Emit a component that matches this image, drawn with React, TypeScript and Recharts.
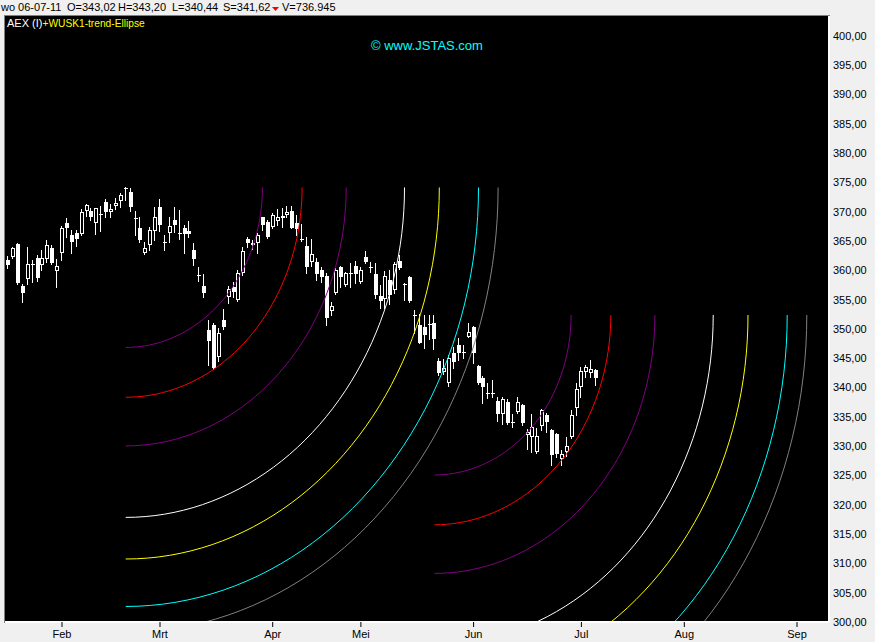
import React from "react";
import { ComposedChart, Bar, Line, XAxis, YAxis, CartesianGrid } from "recharts";

const FONT = "'Liberation Sans', Arial, sans-serif";

// AEX daily candles, index 0 = mid January 2011, last = wo 06-07-11
const opens = [
  361.78, 362.35, 364.51, 357.34, 358.59, 361.0, 362.12, 360.87, 361.89, 363.83,
  359.96, 363.03, 368.15, 365.99, 366.44, 366.22, 370.2, 370.2, 368.15, 369.7,
  371.68, 369.97, 370.99, 371.79, 374.1, 373.38, 368.9, 367.24, 362.92, 364.4,
  366.67, 370.77, 364.9, 366.33, 368.6, 366.3, 367.24, 366.78, 363.49, 359.2,
  357.34, 349.83, 350.68, 345.27, 351.54, 355.41, 357.22, 354.95, 359.51, 365.31,
  364.28, 364.62, 369.06, 368.31, 367.46, 368.38, 369.28, 369.46, 370.14, 368.14,
  365.4, 364.16, 361.48, 361.43, 360.07, 359.04, 353.12, 356.09, 360.53, 357.51,
  359.6, 360.75, 358.07, 362.24, 360.6, 359.39, 355.63, 355.07, 358.36, 356.66,
  361.65, 357.6, 358.93, 352.45, 350.68, 350.29, 350.9, 351.08, 344.59, 342.71,
  340.84, 345.96, 347.27, 346.05, 348.69, 350.39, 343.69, 341.59, 339.1, 339.05,
  337.76, 335.49, 337.54, 334.05, 335.89, 337.03, 331.96, 331.62, 329.06, 333.45,
  335.32, 332.76, 332.08, 327.76, 329.06, 331.62, 336.47, 340.15, 342.71, 342.54,
  343.02,
];
const highs = [
  362.46, 364.05, 364.6, 357.68, 364.05, 361.78, 362.58, 363.49, 365.19, 364.28,
  361.89, 367.58, 368.95, 366.9, 366.9, 370.42, 371.33, 370.65, 370.7, 370.99,
  372.13, 371.33, 372.36, 373.15, 374.15, 374.06, 370.08, 369.17, 364.85, 367.47,
  370.77, 372.13, 366.1, 369.06, 370.77, 370.31, 367.69, 368.38, 364.62, 360.53,
  359.39, 351.54, 350.97, 350.12, 353.36, 357.34, 358.02, 360.07, 364.04, 365.65,
  365.19, 366.33, 369.17, 368.6, 369.85, 370.43, 370.6, 370.99, 370.99, 369.46,
  367.92, 365.65, 365.31, 362.06, 360.53, 359.56, 354.66, 360.36, 360.75, 359.78,
  361.21, 361.6, 360.53, 363.36, 361.48, 361.21, 357.51, 359.95, 360.07, 361.48,
  362.63, 357.8, 359.04, 353.24, 352.56, 352.39, 352.39, 352.39, 345.05, 344.83,
  345.56, 346.98, 348.41, 347.27, 351.08, 350.51, 343.86, 341.98, 340.73, 341.3,
  338.35, 338.45, 338.0, 335.49, 338.35, 337.2, 332.88, 335.49, 333.05, 336.3,
  335.61, 332.88, 332.2, 329.35, 331.52, 336.18, 340.84, 343.57, 343.86, 344.71,
  343.2,
];
const lows = [
  360.36, 362.06, 357.68, 354.67, 357.68, 358.08, 358.25, 360.07, 361.44, 361.1,
  357.23, 361.78, 365.76, 363.03, 364.17, 366.1, 369.29, 368.6, 366.22, 366.78,
  369.06, 369.17, 370.54, 370.88, 372.02, 370.2, 366.1, 364.85, 362.8, 363.49,
  365.19, 366.78, 363.49, 364.85, 366.56, 365.42, 362.92, 365.65, 360.98, 358.25,
  355.52, 343.86, 343.12, 344.59, 349.95, 354.39, 355.52, 354.83, 359.22, 364.04,
  363.6, 362.92, 366.89, 365.48, 367.18, 367.75, 367.46, 369.06, 367.18, 366.04,
  365.01, 359.61, 360.75, 358.36, 358.07, 350.68, 352.39, 355.97, 357.22, 357.34,
  357.12, 357.8, 357.8, 361.31, 359.78, 355.24, 353.53, 353.53, 354.27, 356.09,
  360.19, 354.95, 354.66, 349.27, 347.56, 346.71, 348.24, 346.54, 342.15, 342.32,
  340.27, 343.29, 344.71, 345.0, 348.58, 344.25, 340.61, 337.32, 338.17, 338.35,
  334.35, 333.79, 333.79, 333.33, 335.61, 333.62, 329.47, 329.06, 328.89, 332.76,
  332.47, 326.79, 328.21, 326.79, 328.33, 331.35, 335.32, 338.45, 341.76, 341.76,
  340.44,
];
const closes = [
  360.93, 363.83, 357.91, 356.09, 361.1, 361.1, 358.71, 362.12, 364.28, 361.21,
  360.75, 367.24, 367.24, 364.85, 365.42, 369.97, 371.11, 369.17, 370.65, 369.6,
  369.97, 370.42, 371.45, 372.93, 374.0, 370.88, 368.8, 365.19, 363.83, 366.9,
  369.06, 367.81, 364.8, 367.58, 367.81, 366.2, 366.22, 366.22, 362.01, 359.1,
  356.2, 348.0, 343.34, 349.27, 350.39, 356.78, 356.37, 359.61, 363.36, 364.62,
  364.73, 365.99, 367.8, 365.65, 369.46, 369.06, 368.89, 370.02, 367.29, 367.01,
  365.3, 360.53, 362.8, 359.39, 358.93, 351.88, 353.93, 360.07, 358.93, 359.51,
  359.5, 359.39, 360.07, 361.48, 360.5, 355.8, 354.83, 359.1, 355.8, 361.09,
  360.36, 357.5, 354.83, 352.35, 347.66, 348.98, 350.8, 348.24, 342.44, 343.29,
  345.0, 344.42, 345.96, 345.95, 349.44, 345.96, 340.73, 340.05, 339.0, 338.95,
  335.49, 338.0, 333.91, 333.95, 337.49, 333.91, 332.42, 333.33, 331.74, 336.18,
  334.18, 328.5, 328.67, 328.67, 330.03, 335.32, 339.71, 342.88, 343.57, 343.17,
  341.62,
];

const monthTicks = [11, 31, 54, 72, 95, 117, 138, 161];
const monthLabels = ["Feb", "Mrt", "Apr", "Mei", "Jun", "Jul", "Aug", "Sep"];
const priceTicks = [
  300, 305, 310, 315, 320, 325, 330, 335, 340, 345, 350, 355, 360, 365, 370, 375, 380, 385, 390, 395, 400,
];

// trend-ellipse: two anchor points (day index, price) and the radii of the rings
const ellipseCenterDays = [24, 87];
const ellipseCenterPrices = [374.15, 352.39];
const radiusDays = [27.9, 36.0, 45.0, 56.9, 64.0, 72.0, 76.0];
const radiusPoints = [27.3, 35.8, 44.1, 56.3, 63.4, 71.5, 75.9];
const ellipseColors = ["#800080", "#ff0000", "#800080", "#ffffff", "#ffff00", "#00ffff", "#808080"];

const candles = opens.map((o, i) => ({
  x: i,
  open: o,
  high: highs[i],
  low: lows[i],
  close: closes[i],
}));

// quarter ellipse from the bottom point to the right point of each ring
const ARC_STEPS = 45;
const arcs = ellipseCenterDays.flatMap((cd, g) =>
  radiusDays.map((rd, k) => ({
    key: `g${g}r${k}`,
    color: ellipseColors[k],
    points: Array.from({ length: ARC_STEPS + 1 }, (_, s) => {
      const t = (s / ARC_STEPS) * (Math.PI / 2);
      return { x: cd + rd * Math.sin(t), y: ellipseCenterPrices[g] - radiusPoints[k] * Math.cos(t) };
    }),
  }))
);

function Candle(props: any) {
  const { x, y, width, height, payload } = props;
  if (!payload || height == null || isNaN(y)) return null;
  const { open, close, high, low } = payload;
  const top = Math.min(y, y + height);
  const h = Math.abs(height);
  const k = h / (high - low);
  const py = (p: number) => top + (high - p) * k;
  const c = Math.round(x + width / 2);
  const bt = Math.round(py(Math.max(open, close)));
  let bb = Math.round(py(Math.min(open, close)));
  if (bb - bt < 1) bb = bt + 1;
  const up = close > open;
  const wx = c - 0.5;
  return (
    <g shapeRendering="crispEdges">
      <line x1={wx} x2={wx} y1={Math.round(py(high))} y2={Math.round(py(low)) + 1} stroke="#fff" strokeWidth={1} />
      {up && bb - bt >= 3 ? (
        <rect x={c - 1.5} y={bt + 0.5} width={3} height={bb - bt - 1} fill="#000" stroke="#fff" strokeWidth={1} />
      ) : (
        <rect x={c - 2} y={bt} width={4} height={bb - bt} fill="#fff" />
      )}
    </g>
  );
}

export default function App() {
  return (
    <div
      style={{
        position: "absolute",
        left: 0,
        top: 0,
        width: 875,
        height: 642,
        background: "#f0f0f0",
        overflow: "hidden",
        fontFamily: FONT,
      }}
    >
      <div style={{ position: "absolute", left: 4, top: 15, width: 826, height: 1, background: "#808080" }} />
      <div style={{ position: "absolute", left: 4, top: 15, width: 1, height: 608, background: "#808080" }} />
      <div style={{ position: "absolute", left: 0, top: 0 }}>
        <ComposedChart width={875} height={642} data={candles} margin={{ top: 16, right: 0, bottom: 0, left: 5 }}>
          <CartesianGrid horizontal={false} vertical={false} fill="#000" stroke="none" />
          <XAxis
            dataKey="x"
            type="number"
            domain={[-0.633, 167.53]}
            allowDataOverflow
            ticks={monthTicks}
            interval={0}
            tickFormatter={(v: number) => monthLabels[monthTicks.indexOf(v)]}
            height={20}
            tickSize={5}
            tickMargin={3}
            axisLine={{ stroke: "#fff", strokeWidth: 2 }}
            tickLine={{ stroke: "#000" }}
            tick={{ fill: "#000", fontSize: 11, fontFamily: FONT }}
          />
          <YAxis
            orientation="right"
            type="number"
            domain={[300, 403.41]}
            allowDataOverflow
            ticks={priceTicks}
            interval={0}
            width={46}
            tickSize={0}
            tickMargin={4}
            tickLine={false}
            axisLine={{ stroke: "#fff", strokeWidth: 2 }}
            tickFormatter={(v: number) => v.toFixed(2).replace(".", ",")}
            tick={{ fill: "#000", fontSize: 11, fontFamily: FONT }}
          />
          {arcs.map((a) => (
            <Line
              key={a.key}
              data={a.points}
              dataKey="y"
              type="linear"
              stroke={a.color}
              strokeWidth={1}
              dot={false}
              activeDot={false}
              isAnimationActive={false}
            />
          ))}
          <Bar
            dataKey={(d: any) => [d.low, d.high]}
            barSize={4}
            shape={<Candle />}
            isAnimationActive={false}
          />
        </ComposedChart>
      </div>
      <svg
        width={875}
        height={642}
        style={{ position: "absolute", left: 0, top: 0, pointerEvents: "none" }}
        fontFamily={FONT}
      >
        <g fontSize={11} fill="#000">
          <text x={1} y={11}>wo 06-07-11</text>
          <text x={67} y={11}>O=343,02</text>
          <text x={118} y={11}>H=343,20</text>
          <text x={172} y={11}>L=340,44</text>
          <text x={223} y={11}>S=341,62</text>
          <polygon points="272,7 279,7 275.5,11" fill="#ff0000" />
          <text x={282} y={11}>V=736.945</text>
        </g>
        <text x={7} y={27} fontSize={11}>
          <tspan fill="#ffffff">AEX (I)</tspan>
          <tspan fill="#ffff00" fontSize={10.2}>+WUSK1-trend-Ellipse</tspan>
        </text>
        <text x={371} y={50} fontSize={13} fill="#00ffff">
          © www.JSTAS.com
        </text>
      </svg>
    </div>
  );
}
